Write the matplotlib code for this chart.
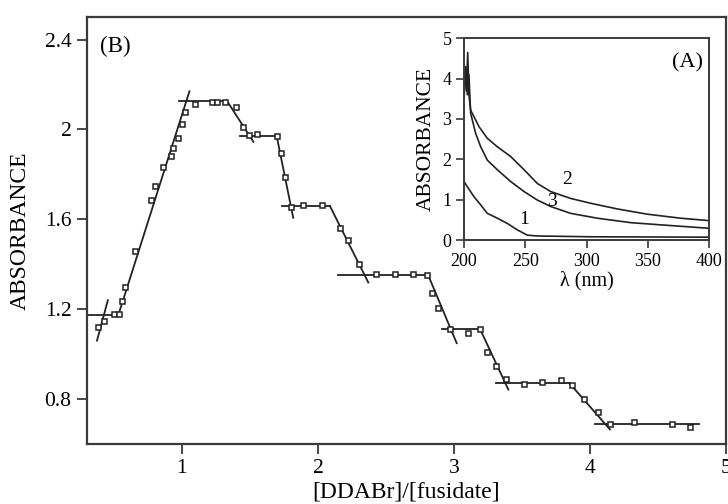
import matplotlib
matplotlib.use("Agg")
import matplotlib.pyplot as plt

plt.rcParams['font.family'] = ['Liberation Serif', 'DejaVu Serif']
plt.rcParams['mathtext.fontset'] = 'custom'

# Titration: absorbance vs [DDABr]/[fusidate]
ratio = [0.385, 0.43, 0.50, 0.54, 0.56, 0.58, 0.655, 0.77, 0.80, 0.858, 0.92,
         0.936, 0.973, 0.998, 1.024, 1.095, 1.218, 1.255, 1.32, 1.395, 1.45,
         1.495, 1.55, 1.696, 1.728, 1.757, 1.80, 1.89, 2.027, 2.16, 2.22, 2.30,
         2.43, 2.566, 2.70, 2.80, 2.836, 2.885, 2.97, 3.105, 3.19, 3.24, 3.31,
         3.38, 3.515, 3.645, 3.787, 3.87, 3.957, 4.056, 4.15, 4.325, 4.60, 4.735]
absorb = [1.119, 1.147, 1.178, 1.178, 1.236, 1.297, 1.46, 1.685, 1.75, 1.831,
          1.884, 1.919, 1.96, 2.024, 2.076, 2.112, 2.121, 2.121, 2.121, 2.098,
          2.009, 1.975, 1.98, 1.971, 1.894, 1.79, 1.654, 1.666, 1.666, 1.561,
          1.509, 1.402, 1.355, 1.355, 1.355, 1.351, 1.272, 1.207, 1.114, 1.096,
          1.114, 1.011, 0.946, 0.888, 0.865, 0.877, 0.885, 0.862, 0.80, 0.741,
          0.687, 0.70, 0.69, 0.677]

# Fitted straight-line segments (x0, y0, x1, y1)
fit_segments = [
    (0.30, 1.175, 0.55, 1.175),
    (0.375, 1.06, 0.455, 1.24),
    (0.53, 1.17, 1.055, 2.17),
    (0.975, 2.128, 1.33, 2.128),
    (1.33, 2.128, 1.525, 1.945),
    (1.425, 1.972, 1.696, 1.972),
    (1.696, 1.972, 1.818, 1.607),
    (1.733, 1.659, 2.088, 1.659),
    (2.088, 1.659, 2.37, 1.319),
    (2.15, 1.352, 2.81, 1.352),
    (2.81, 1.352, 3.02, 1.049),
    (2.91, 1.114, 3.19, 1.114),
    (3.19, 1.114, 3.40, 0.842),
    (3.31, 0.870, 3.85, 0.870),
    (3.85, 0.870, 4.147, 0.665),
    (4.04, 0.690, 4.80, 0.690),
]

# UV spectra (inset)
wl_1 = [200, 202.7, 208.2, 213.6, 219, 227.2, 235.3, 243.5, 251.6, 259.8, 303, 400]
abs_1 = [1.45, 1.32, 1.07, 0.87, 0.66, 0.54, 0.41, 0.25, 0.12, 0.10, 0.08, 0.07]
wl_2 = [200, 201, 202, 203, 204, 205.4, 212.2, 219, 227.2, 238, 249, 259.8,
        270.7, 287, 303.3, 325, 349.4, 376.7, 400]
abs_2 = [3.6, 4.2, 3.7, 4.65, 3.6, 3.22, 2.81, 2.52, 2.31, 2.07, 1.74, 1.40,
         1.20, 1.03, 0.91, 0.77, 0.64, 0.54, 0.48]
wl_3 = [200, 201.5, 202.7, 204, 205.4, 209.5, 213.6, 219, 227.2, 238, 249,
        259.8, 270.7, 287, 308.7, 335.9, 363, 400]
abs_3 = [3.5, 4.3, 3.6, 4.1, 3.14, 2.64, 2.31, 1.98, 1.74, 1.45, 1.20, 0.99,
         0.83, 0.66, 0.54, 0.43, 0.37, 0.29]

spine_col = '#3a3a3a'

fig = plt.figure(figsize=(7.28, 5.04), dpi=100)
ax = fig.add_axes([0.1192, 0.119, 0.878, 0.847])

for x0, y0, x1, y1 in fit_segments:
    ax.plot([x0, x1], [y0, y1], color='#222222', lw=1.3, zorder=2)
ax.plot(ratio, absorb, ls='none', marker='s', ms=3.6, mfc='white',
        mec='#222222', mew=1.1, zorder=3)

ax.set_xlim(0.3, 5.0)
ax.set_ylim(0.6, 2.5)
ax.set_xticks([1, 2, 3, 4, 5])
ax.set_yticks([0.8, 1.2, 1.6, 2.0, 2.4])
ax.set_yticklabels(['0.8', '1.2', '1.6', '2', '2.4'])
ax.tick_params(direction='out', length=7, width=1.3, color=spine_col,
               labelsize=15.5, pad=4)
for s in ax.spines.values():
    s.set_color(spine_col)
    s.set_linewidth(1.6)
ax.set_xlabel('[DDABr]/[fusidate]', fontsize=17, labelpad=2)
ax.set_ylabel('ABSORBANCE', fontsize=17, labelpad=10)
ax.text(0.4, 2.37, '(B)', fontsize=16.5, va='center', ha='left')

# Inset with spectra
ins = fig.add_axes([0.6374, 0.5238, 0.337, 0.4002])
ins.plot(wl_1, abs_1, color='#222222', lw=1.2)
ins.plot(wl_2, abs_2, color='#222222', lw=1.2)
ins.plot(wl_3, abs_3, color='#222222', lw=1.2)
ins.set_xlim(200, 400)
ins.set_ylim(0, 5)
ins.set_xticks([200, 250, 300, 350, 400])
ins.set_yticks([0, 1, 2, 3, 4, 5])
ins.tick_params(direction='out', length=6, width=1.2, color=spine_col,
                labelsize=13, pad=3)
for s in ins.spines.values():
    s.set_color(spine_col)
    s.set_linewidth(1.4)
ins.set_xlabel('λ (nm)', fontsize=14.5, labelpad=1)
ins.set_ylabel('ABSORBANCE', fontsize=15.5, labelpad=5)
ins.text(395, 4.4, '(A)', fontsize=16, ha='right', va='center')
ins.text(284, 1.49, '2', fontsize=14, ha='center', va='center')
ins.text(272, 0.95, '3', fontsize=14, ha='center', va='center')
ins.text(249, 0.5, '1', fontsize=14, ha='center', va='center')

fig.savefig('out.png', dpi=100)
